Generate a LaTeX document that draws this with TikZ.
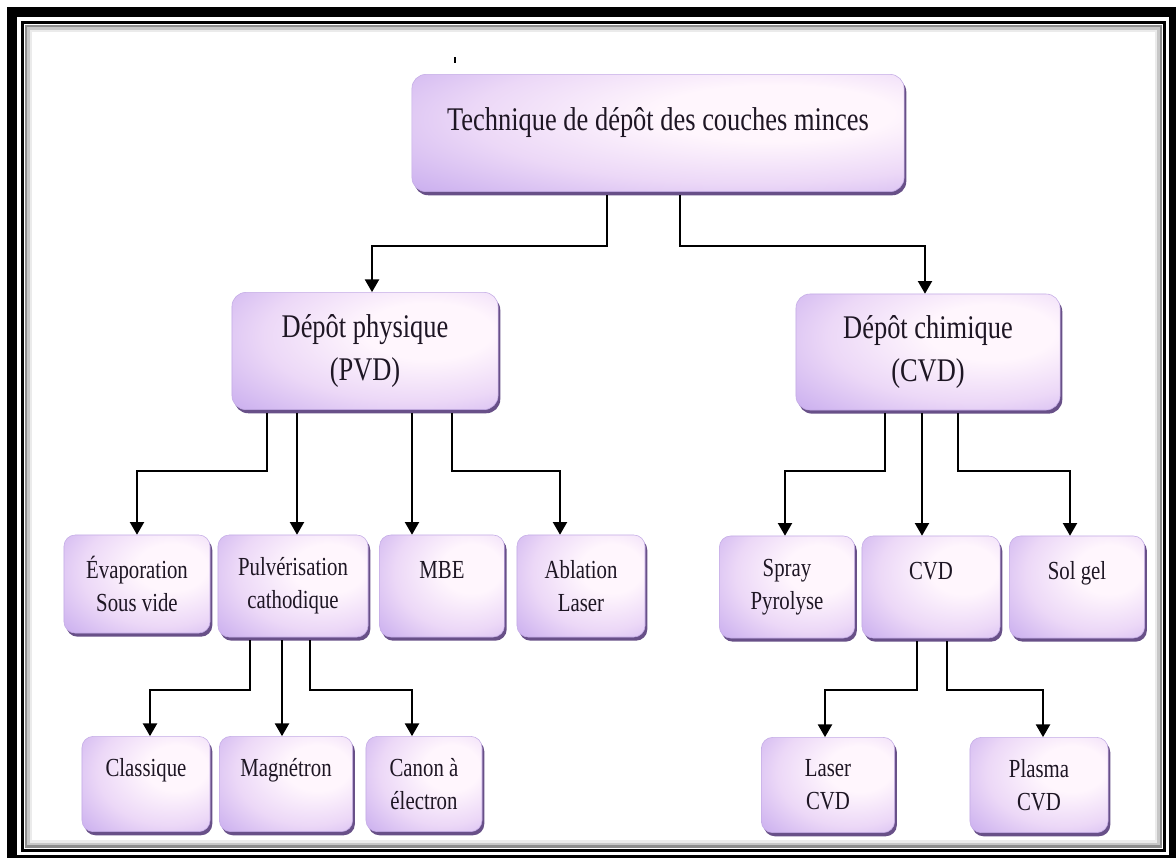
\documentclass[tikz,border=0pt]{standalone}
\usepackage{fontspec}
\setmainfont{Liberation Serif}[FakeStretch=0.8]
\usepackage{tikz}
\usetikzlibrary{positioning,calc,shadows,arrows.meta}

\definecolor{boxlav}{RGB}{200,172,238}
\definecolor{boxmid}{RGB}{236,216,247}
\definecolor{boxlight}{RGB}{255,246,253}
\definecolor{boxedge}{RGB}{196,172,230}
\definecolor{boxshade}{RGB}{104,80,136}
\definecolor{boxtext}{RGB}{30,22,36}

\pgfdeclareradialshading{boxglow}{\pgfpoint{14bp}{10bp}}{%
    color(0bp)=(boxlight); color(12bp)=(boxlight); color(28bp)=(boxmid);
    color(44bp)=(boxlav); color(80bp)=(boxlav)}

\tikzset{
    box/.style={rounded corners=8pt, draw=boxedge, line width=0.4pt,
        shading=boxglow, inner sep=0pt,
        align=center, text=boxtext,
        drop shadow={shadow xshift=1.6pt, shadow yshift=-2.6pt, fill=boxshade, opacity=1}},
    bigbox/.style={box, rounded corners=10pt, font=\fontsize{23.5}{30.5}\selectfont},
    smallbox/.style={box, font=\fontsize{18.5}{23.5}\selectfont},
    link/.style={line width=1.3pt, black},
    arrow/.style={link, -{Triangle[width=10pt,length=9pt]}}
}

\begin{document}
\begin{tikzpicture}[x=0.025cm, y=-0.025cm]
    \useasboundingbox (0,0) rectangle (1176,861);

    % Frame
    \fill[black] (7,7) rectangle (1176,858);
    \fill[white] (17,17) rectangle (1169,855);
    \draw[line width=0.075cm] (22.5,22.5) rectangle (1164.5,850);
    \draw[black!45, line width=0.06cm] (26,26) rectangle (1161,846.5);
    \draw[black!22, line width=0.06cm] (28.5,28.5) rectangle (1158.5,844);
    \draw[black!8, line width=0.06cm] (31,31) rectangle (1156,841.5);
    \draw[line width=0.05cm] (455,57) -- (455,63); % small mark

    % Top level
    \node[bigbox, minimum width=12.3cm, minimum height=2.93cm,
        text height=0.5cm, text depth=0.65cm] (tech) at (658,133)
        {Technique de dépôt des couches minces};

    % Second level
    \node[bigbox, minimum width=6.65cm, minimum height=2.93cm] (pvd) at (365,351)
        {Dépôt physique\\(PVD)};
    \node[bigbox, minimum width=6.6cm, minimum height=2.9cm] (chim) at (928,352)
        {Dépôt chimique\\(CVD)};

    % Third level
    \node[smallbox, minimum width=3.65cm, minimum height=2.45cm] (evap) at (137,584)
        {Évaporation\\Sous vide};
    \node[smallbox, minimum width=3.75cm, minimum height=2.55cm] (pulv) at (293,586)
        {Pulvérisation\\cathodique};
    \node[smallbox, minimum width=3.12cm, minimum height=2.55cm] (mbe) at (442,586)
        {MBE\\~};
    \node[smallbox, minimum width=3.2cm, minimum height=2.55cm] (abla) at (581,586)
        {Ablation\\Laser};
    \node[smallbox, minimum width=3.38cm, minimum height=2.55cm] (spray) at (787,587)
        {Spray\\Pyrolyse};
    \node[smallbox, minimum width=3.45cm, minimum height=2.55cm] (cvdm) at (931,587)
        {CVD\\~};
    \node[smallbox, minimum width=3.38cm, minimum height=2.55cm] (solgel) at (1077,587)
        {Sol gel\\~};

    % Fourth level
    \node[smallbox, minimum width=3.2cm, minimum height=2.38cm] (classique) at (146,784)
        {Classique\\~};
    \node[smallbox, minimum width=3.33cm, minimum height=2.38cm] (magnetron) at (286,784)
        {Magnétron\\~};
    \node[smallbox, minimum width=2.9cm, minimum height=2.38cm] (canon) at (424,784)
        {Canon à\\électron};
    \node[smallbox, minimum width=3.33cm, minimum height=2.38cm] (lasercvd) at (828,785)
        {Laser\\CVD};
    \node[smallbox, minimum width=3.45cm, minimum height=2.38cm] (plasmacvd) at (1039,785)
        {Plasma\\CVD};

    % Connectors from the top box
    \draw[arrow] (tech.south) ++(-51,3) -- ++(0,51) -| ($(pvd.north)+(7,0)$);
    \draw[arrow] (tech.south) ++(22,3) -- ++(0,51) -| ($(chim.north)+(-3,0)$);

    % Connectors from PVD
    \draw[arrow] (pvd.south) ++(-98,3) -- ++(0,58) -| (evap.north);
    \draw[arrow] (pvd.south) ++(-68,3) coordinate (p2) -- (p2 |- pulv.north);
    \draw[arrow] (pvd.south) ++(47,3) coordinate (p3) -- (p3 |- mbe.north);
    \draw[arrow] (pvd.south) ++(87,3) -- ++(0,58) -| ($(abla.north)+(-21,0)$);

    % Connectors from CVD
    \draw[arrow] (chim.south) ++(-43,3) -- ++(0,58) -| ($(spray.north)+(-2,0)$);
    \draw[arrow] (chim.south) ++(-6,3) coordinate (c2) -- (c2 |- cvdm.north);
    \draw[arrow] (chim.south) ++(30,3) -- ++(0,58) -| ($(solgel.north)+(-7,0)$);

    % Pulverisation children
    \draw[arrow] (pulv.south) ++(-43,3) -- ++(0,50) -| ($(classique.north)+(4,0)$);
    \draw[arrow] (pulv.south) ++(-11,3) coordinate (s2) -- (s2 |- magnetron.north);
    \draw[arrow] (pulv.south) ++(17,3) -- ++(0,50) -| ($(canon.north)+(-12,0)$);

    % CVD children
    \draw[arrow] (cvdm.south) ++(-14,3) -- ++(0,49) -| ($(lasercvd.north)+(-3,0)$);
    \draw[arrow] (cvdm.south) ++(16,3) -- ++(0,49) -| ($(plasmacvd.north)+(4,0)$);
\end{tikzpicture}
\end{document}
